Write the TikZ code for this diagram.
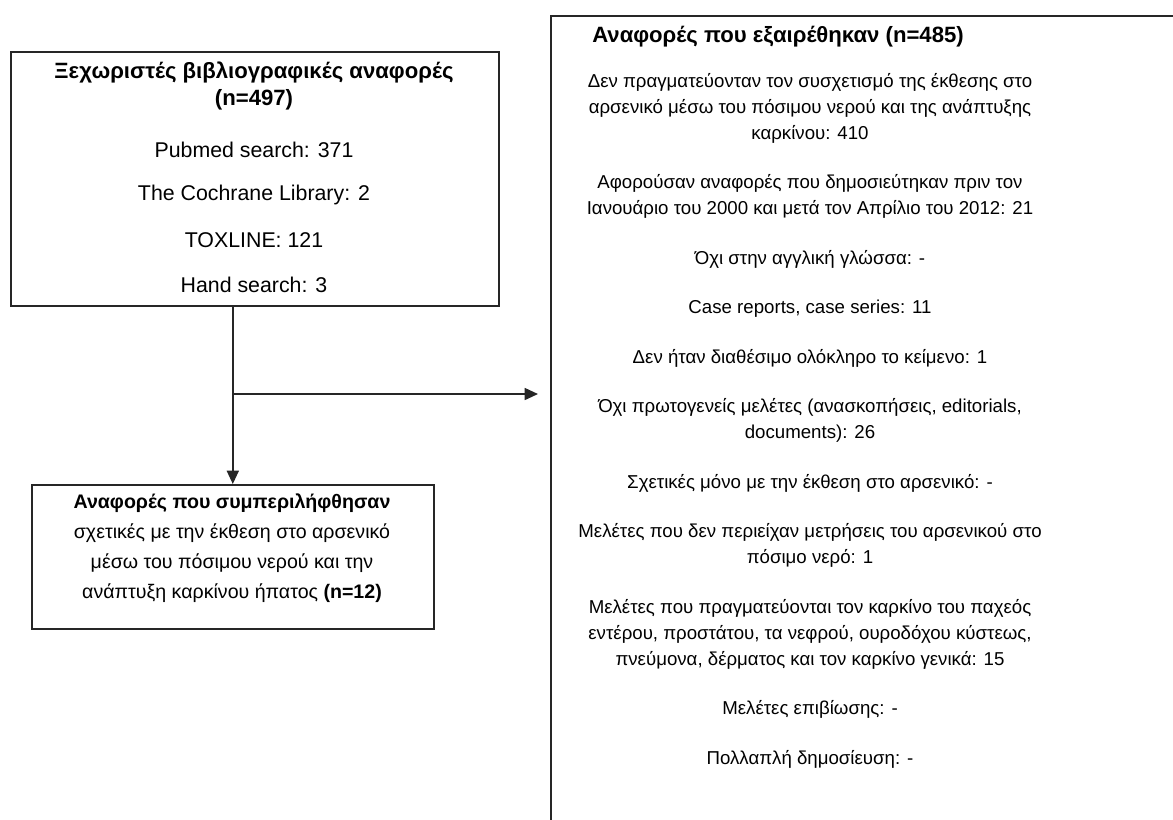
\documentclass[tikz,border=0pt]{standalone}
\usepackage{fontspec}
\setmainfont{Liberation Sans}
\usetikzlibrary{arrows.meta}
\begin{document}
\begin{tikzpicture}[x=0.75pt,y=-0.75pt,
  box/.style={draw=black!85,line width=1.2pt,anchor=north west,inner sep=0pt},
  txt/.style={inner sep=0pt,align=center,font=\fontsize{14}{19.5}\selectfont},
  srctxt/.style={txt,font=\fontsize{16}{20}\selectfont},
  inctxt/.style={txt,font=\fontsize{14.7}{22.5}\selectfont},
  arr/.style={draw=black!85,line width=1.2pt,-{Triangle[length=10pt,width=9pt]}}]
\useasboundingbox (0,0) rectangle (1173,819);
\clip (0,0) rectangle (1173,819);
% boxes
\node[box,minimum width=366pt,minimum height=190.5pt] (src) at (10,51) {};
\node[box,minimum width=301.5pt,minimum height=108pt] (inc) at (31,484) {};
\node[box,minimum width=525pt,minimum height=663pt] (exc) at (550,15) {};
% top-left box text
\node[srctxt,font=\fontsize{16.6}{20}\selectfont\bfseries] (s1) at (254,72) {Ξεχωριστές βιβλιογραφικές αναφορές};
\node[srctxt,font=\fontsize{16.6}{20}\selectfont\bfseries] (s2) at (254,100) {(n=497)};
\node[srctxt] (s3) at (254,150) {Pubmed search: 371};
\node[srctxt] (s4) at (254,195) {The Cochrane Library: 2};
\node[srctxt] (s5) at (254,240) {TOXLINE: 121};
\node[srctxt] (s6) at (254,285) {Hand search: 3};
% bottom-left box text
\node[inctxt] (i1) at (232,548)
  {\textbf{Αναφορές που συμπεριλήφθησαν}\\
   σχετικές με την έκθεση στο αρσενικό\\
   μέσω του πόσιμου νερού και την\\
   ανάπτυξη καρκίνου ήπατος \textbf{(n=12)}};
% right box text
\node[txt,font=\fontsize{16.6}{20}\selectfont\bfseries] (e0) at (778,37) {Αναφορές που εξαιρέθηκαν (n=485)};
\node[txt] (e1) at (810,108) {Δεν πραγματεύονταν τον συσχετισμό της έκθεσης στο\\
  αρσενικό μέσω του πόσιμου νερού και της ανάπτυξης\\ καρκίνου: 410};
\node[txt] (e2) at (810,196.5) {Αφορούσαν αναφορές που δημοσιεύτηκαν πριν τον\\
  Ιανουάριο του 2000 και μετά τον Απρίλιο του 2012: 21};
\node[txt] (e3) at (810,259) {Όχι στην αγγλική γλώσσα: -};
\node[txt] (e4) at (810,308.5) {Case reports, case series: 11};
\node[txt] (e5) at (810,358) {Δεν ήταν διαθέσιμο ολόκληρο το κείμενο: 1};
\node[txt] (e6) at (810,420.5) {Όχι πρωτογενείς μελέτες (ανασκοπήσεις, editorials,\\ documents): 26};
\node[txt] (e7) at (810,483) {Σχετικές μόνο με την έκθεση στο αρσενικό: -};
\node[txt] (e8) at (810,545.5) {Μελέτες που δεν περιείχαν μετρήσεις του αρσενικού στο\\ πόσιμο νερό: 1};
\node[txt] (e9) at (810,634) {Μελέτες που πραγματεύονται τον καρκίνο του παχεός\\
  εντέρου, προστάτου, τα νεφρού, ουροδόχου κύστεως,\\
  πνεύμονα, δέρματος και τον καρκίνο γενικά: 15};
\node[txt] (e10) at (810,709.5) {Μελέτες επιβίωσης: -};
\node[txt] (e11) at (810,759) {Πολλαπλή δημοσίευση: -};
% connectors
\coordinate (j) at (inc.north |- 0,394);
\coordinate (jt) at (538,394);
\draw[arr] (src.south -| inc.north) -- (inc.north);
\draw[arr] (j) -- (jt);
\end{tikzpicture}
\end{document}
